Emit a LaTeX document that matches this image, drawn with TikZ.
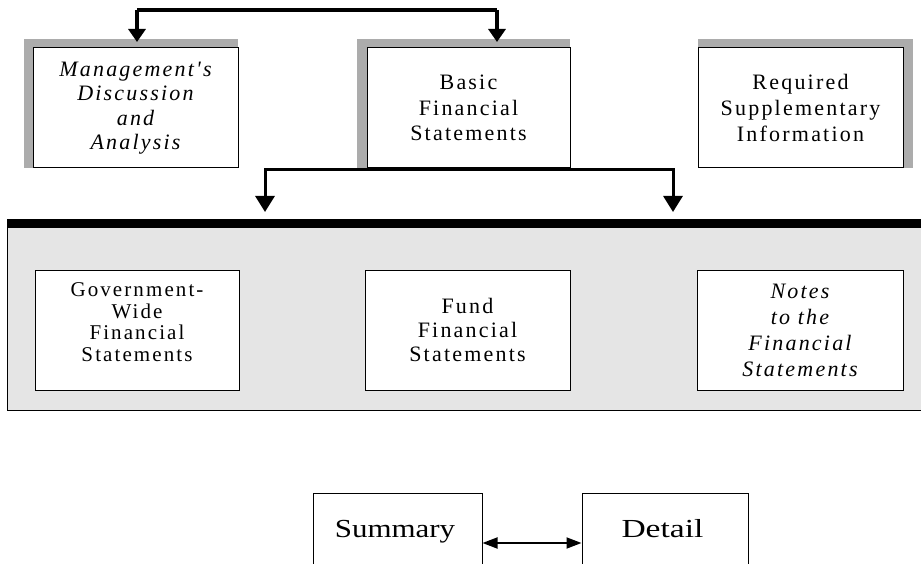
\documentclass[tikz,border=0pt]{standalone}
\usepackage{fontspec}
\setmainfont{Liberation Serif}
\newfontfamily\spaced[LetterSpace=10]{Liberation Serif}
\usetikzlibrary{arrows.meta}
\tikzset{
  boxbase/.style={draw=black, line width=1pt, fill=white, inner sep=0pt, align=center},
  topbox/.style={boxbase, minimum height=120pt, font=\spaced\fontsize{22}{25.5}\selectfont},
  innerbox/.style={boxbase, minimum height=120pt, font=\spaced\fontsize{22}{24}\selectfont},
  sumbox/.style={boxbase, minimum height=73pt},
  shade/.style={fill=gray!65, draw=none},
  txt/.style={inner sep=0pt, align=center},
  bigtxt/.style={inner sep=0pt, anchor=base, font=\fontsize{26}{30}\selectfont},
  toparr/.style={line width=3.2pt, -{Triangle[width=17pt,length=13pt]}},
  botarr/.style={line width=3pt, -{Triangle[width=19pt,length=16pt]}},
  dblarr/.style={line width=1.8pt, {Triangle[width=11pt,length=15pt]}-{Triangle[width=11pt,length=15pt]}},
}
\begin{document}
\begin{tikzpicture}[x=1pt,y=-1pt]
\useasboundingbox (0,0) rectangle (921,564);
\clip (0,0) rectangle (921,564);
% shadows of top boxes
\fill[shade] (24,39) rectangle (238,168);
\fill[shade] (357,39) rectangle (570,168);
\fill[shade] (698,39) rectangle (913,168);
% top boxes
\node[topbox, minimum width=205pt, font=\spaced\itshape\fontsize{22}{24.5}\selectfont] (mgmt) at (135.5,108)
  {Management's\\Discussion\\and\\Analysis};
\node[topbox, minimum width=203pt] (basic) at (468.5,108)
  {Basic\\Financial\\Statements};
\node[topbox, minimum width=205pt, font=\spaced\fontsize{22}{26}\selectfont] (req) at (800.5,108)
  {Required\\Supplementary\\Information};
% top connector
\coordinate (t1) at (137,10);
\coordinate (t2) at (497,10);
\draw[line width=3.2pt] (t1) -- (t2);
\draw[toparr] (t1) -- (t1 |- 0,42);
\draw[toparr] (t2) -- (t2 |- 0,42);
% bottom connector
\coordinate (bL) at (265,212);
\coordinate (bR) at (673,212);
\coordinate (bj) at (468.5,170);
\draw[botarr] (bj) -| (bL);
\draw[botarr] (bj) -| (bR);
% panel
\fill[gray!20] (7,220) rectangle (921,410);
\draw[line width=1pt] (7,220) -- (7,410) -- (921,410);
\fill[black] (7,219) rectangle (921,228);
% inner boxes
\node[boxbase, minimum width=204pt, minimum height=120pt] (gov) at (137,330) {};
\node[txt, font=\spaced\fontsize{21}{21.5}\selectfont] (govt) at (137,322)
  {Government-\\Wide\\Financial\\Statements};
\node[innerbox, minimum width=205pt] (fund) at (467.5,330)
  {Fund\\Financial\\Statements};
\node[innerbox, minimum width=206pt, font=\spaced\itshape\fontsize{22}{26}\selectfont] (notes) at (800,330)
  {Notes\\to the\\Financial\\Statements};
% summary / detail
\node[sumbox, minimum width=169pt] (sum) at (397.5,529.5) {};
\node[sumbox, minimum width=166pt] (det) at (665,529.5) {};
\node[bigtxt] (sumt) at (395,537) {\scalebox{1.19}[1]{Summary}};
\node[bigtxt] (dett) at (662.5,537) {\scalebox{1.29}[1]{Detail}};
\coordinate (ay) at (0,543);
\draw[dblarr] (sum.east |- ay) -- (det.west |- ay);
\end{tikzpicture}
\end{document}
